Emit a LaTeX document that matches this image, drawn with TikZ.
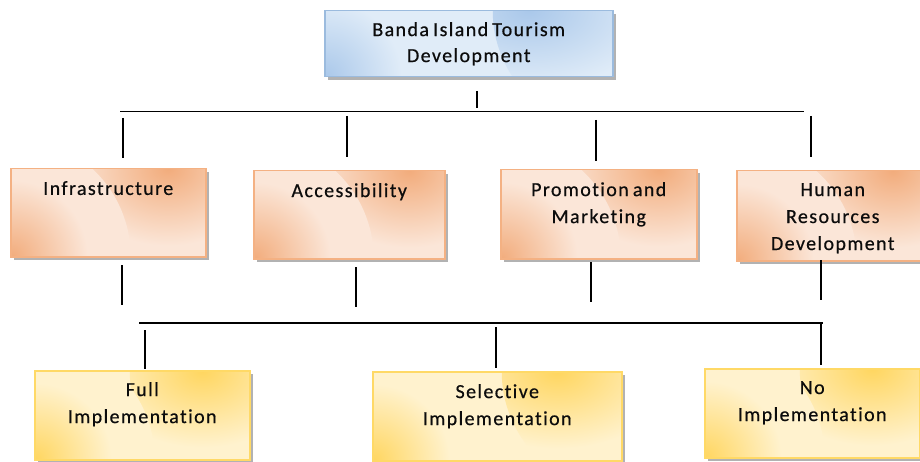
\documentclass[tikz,border=0pt]{standalone}
\usepackage{fontspec}
\setmainfont[LetterSpace=7,WordSpace=0.7,Ligatures=NoCommon,FakeBold=0.5]{Carlito}
\usetikzlibrary{shadows}

% box colours: D = corner tint, L = body, B = border
\definecolor{blueD}{RGB}{170,200,234}
\definecolor{blueL}{RGB}{224,236,248}
\definecolor{blueB}{RGB}{155,187,222}
\definecolor{orgD}{RGB}{242,172,124}
\definecolor{orgL}{RGB}{251,230,216}
\definecolor{orgB}{RGB}{244,177,131}
\definecolor{ylwD}{RGB}{255,214,96}
\definecolor{ylwL}{RGB}{255,242,206}
\definecolor{ylwB}{RGB}{255,217,102}
\definecolor{ink}{RGB}{12,12,12}

% corner tints: strong at the centre, fading to the body colour well inside the disc
\pgfdeclareradialshading{bluetint}{\pgfpointorigin}{color(0bp)=(blueD); color(16bp)=(blueL); color(50bp)=(blueL)}
\pgfdeclareradialshading{orgtint}{\pgfpointorigin}{color(0bp)=(orgD); color(16bp)=(orgL); color(50bp)=(orgL)}
\pgfdeclareradialshading{ylwtint}{\pgfpointorigin}{color(0bp)=(ylwD); color(16bp)=(ylwL); color(50bp)=(ylwL)}

\tikzset{
  % body colour with a tint in the top-right and bottom-left corners
  tinted/.style n args={3}{fill=#2, draw=#3,
    path picture={
      \shade[shading=#1]
        (path picture bounding box.north east) circle (120pt);
      \shade[shading=#1]
        (path picture bounding box.south west) circle (120pt);
    }},
  boxbase/.style={line width=1.5pt, anchor=north west, inner sep=0pt,
    drop shadow={shadow xshift=3.5pt, shadow yshift=-3.5pt, fill=black, opacity=0.3}},
  topbox/.style={boxbase, tinted={bluetint}{blueL}{blueB},
    align=center, text=ink, font=\fontsize{20}{26}\selectfont},
  factor/.style={boxbase, tinted={orgtint}{orgL}{orgB}},
  outcome/.style={boxbase, tinted={ylwtint}{ylwL}{ylwB}},
  lbl/.style={anchor=north, align=center, inner sep=0pt, yshift=-13pt,
    text=ink, font=\fontsize{20}{27}\selectfont},
  link/.style={line width=1.6pt, draw=black}
}

\begin{document}
\begin{tikzpicture}[x=1pt, y=1pt]
\useasboundingbox (0,0) rectangle (920,461);

% ---- boxes ----
\node[topbox, minimum width=288pt, minimum height=66pt] (root) at (324,451)
  {Banda Island Tourism\\Development};

\node[factor, minimum width=195pt, minimum height=88pt,
  label={[lbl, name=infraT]north:Infrastructure}] (infra) at (10,293) {};
\node[factor, minimum width=191pt, minimum height=88pt,
  label={[lbl, name=accessT]north:Accessibility}] (access) at (253,291) {};
\node[factor, minimum width=196pt, minimum height=89pt,
  label={[lbl, name=promoT]north:Promotion and\\Marketing}] (promo) at (500,292) {};
\node[factor, minimum width=192pt, minimum height=90pt,
  label={[lbl, name=hrdT]north:Human\\Resources\\Development}] (hrd) at (736,291) {};

\node[outcome, minimum width=215pt, minimum height=89pt,
  label={[lbl, yshift=1pt, name=fullT]north:Full\\Implementation}] (full) at (34,91) {};
\node[outcome, minimum width=249pt, minimum height=89pt,
  label={[lbl, name=selT]north:Selective\\Implementation}] (sel) at (372,90) {};
\node[outcome, minimum width=215pt, minimum height=89pt,
  label={[lbl, name=noT]north:No\\Implementation}] (none) at (704,93) {};

% ---- connector end points ----
\coordinate (rootA) at (477,370);   \coordinate (rootB) at (477,353);
\coordinate (busAL) at (120,349.5); \coordinate (busAR) at (804,349.5);
\coordinate (infraU1) at (123,343);  \coordinate (infraU2) at (123,303);
\coordinate (accessU1) at (347,345); \coordinate (accessU2) at (347,304);
\coordinate (promoU1) at (596,341);  \coordinate (promoU2) at (596,300);
\coordinate (hrdU1) at (811,345);    \coordinate (hrdU2) at (811,304);
\coordinate (infraD1) at (122,196);  \coordinate (infraD2) at (122,156);
\coordinate (accessD1) at (356,194); \coordinate (accessD2) at (356,154);
\coordinate (promoD1) at (591,199);  \coordinate (promoD2) at (591,159);
\coordinate (hrdD1) at (821,201);    \coordinate (hrdD2) at (821,161);
\coordinate (busBL) at (139,138); \coordinate (busBR) at (823,138);
\coordinate (fullU1) at (145,131);  \coordinate (fullU2) at (145,92);
\coordinate (selU1) at (496,134);   \coordinate (selU2) at (496,93);
\coordinate (noU1) at (821,138);    \coordinate (noU2) at (821,96);

% ---- connectors ----
\draw[link] (rootA) -- (rootB);
\draw[link] (busAL) -- (busAR);
\draw[link] (infraU1) -- (infraU2);
\draw[link] (accessU1) -- (accessU2);
\draw[link] (promoU1) -- (promoU2);
\draw[link] (hrdU1) -- (hrdU2);
\draw[link] (infraD1) -- (infraD2);
\draw[link] (accessD1) -- (accessD2);
\draw[link] (promoD1) -- (promoD2);
\draw[link] (hrdD1) -- (hrdD2);
\draw[link] (busBL) -- (busBR);
\draw[link] (fullU1) -- (fullU2);
\draw[link] (selU1) -- (selU2);
\draw[link] (noU1) -- (noU2);
\end{tikzpicture}
\end{document}
